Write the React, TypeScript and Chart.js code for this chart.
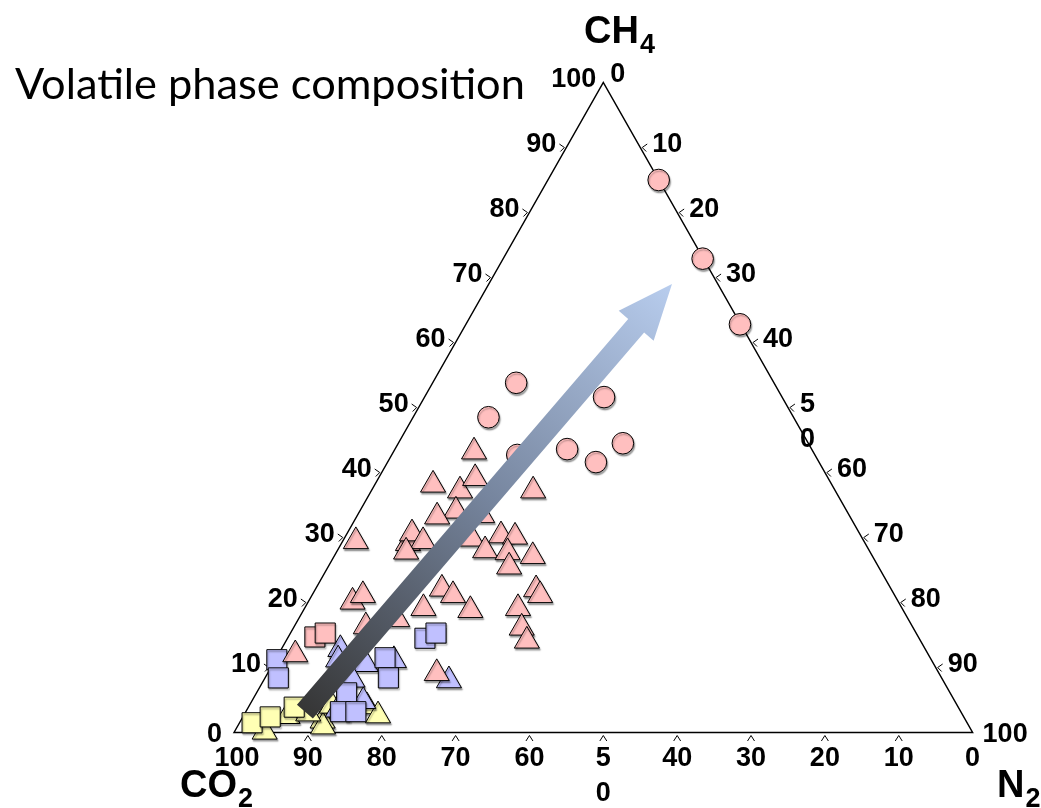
import React, { useEffect, useRef } from "react";
import { Chart, registerables } from "chart.js";

Chart.register(...registerables);

const TITLE = "Volatile phase composition";
const tickValues = [0, 10, 20, 30, 40, 50, 60, 70, 80, 90, 100];
const ch4TickLabels = ["0", "10", "20", "30", "40", "50", "60", "70", "80", "90", "100"];
const n2TickLabels = ["0", "10", "20", "30", "40", "5\n0", "60", "70", "80", "90", "100"];
const co2TickLabels = ["100", "90", "80", "70", "60", "5\n0", "40", "30", "20", "10", "0"];

// Compositions in % (CO2 = 100 - CH4 - N2)
const pinkCircleCH4 = [85.0, 72.9, 62.8, 53.8, 48.5, 51.6, 42.7, 43.6, 41.6, 44.5];
const pinkCircleN2 = [15.0, 27.0, 37.1, 11.3, 10.2, 24.3, 17.0, 23.3, 28.2, 30.4];

const pinkTriangleCH4 = [12.0, 20.1, 21.1, 29.4, 29.1, 30.6, 29.4, 27.8, 38.1, 37.2, 34.1, 33.2, 39.1, 43.2, 37.2, 29.8, 30.3, 30.1, 28.0, 27.7, 27.1, 25.5, 22.1, 21.1, 19.1, 18.8, 22.0, 21.1, 19.1, 16.1, 14.1, 9.1, 16.3, 17.4, 33.4];
const pinkTriangleN2 = [2.3, 6.0, 6.9, 1.8, 9.0, 8.8, 10.9, 9.4, 7.9, 12.0, 13.0, 10.9, 13.1, 10.9, 21.9, 17.3, 21.0, 23.0, 20.0, 23.2, 26.9, 24.5, 17.1, 19.1, 16.1, 22.6, 29.9, 30.9, 28.9, 30.9, 32.6, 22.9, 9.7, 13.4, 16.9];

const pinkSquareCH4 = [14.7, 15.3];
const pinkSquareN2 = [3.6, 4.7];

const blueSquareCH4 = [11.2, 8.4, 11.5, 8.4, 14.5, 15.3, 6.1, 3.2, 3.2];
const blueSquareN2 = [0.2, 1.8, 14.7, 16.7, 18.6, 19.7, 12.2, 12.8, 14.9];

const blueTriangleCH4 = [12.8, 11.2, 10.5, 11.1, 8.1, 8.0, 4.9, 4.8, 3.7, 3.5];
const blueTriangleN2 = [8.0, 8.5, 12.6, 16.1, 12.0, 25.1, 13.0, 15.1, 14.1, 12.3];

const yellowSquareCH4 = [1.5, 2.4, 3.9];
const yellowSquareN2 = [1.7, 3.7, 6.2];

const yellowTriangleCH4 = [0.1, 2.5, 1.8, 0.9, 4.1, 4.0, 2.6, 2.9];
const yellowTriangleN2 = [4.1, 6.0, 11.1, 11.6, 11.2, 16.0, 18.2, 8.6];

// Trend arrow: start and tip compositions
const arrowCH4 = [3.2, 69.0];
const arrowN2 = [8.0, 24.8];

const PINK = "#ffbfbf";
const BLUE = "#c0c0ff";
const YELLOW = "#ffffb4";

const toPts = (ch4: number[], n2: number[]) =>
  ch4.map((c, i) => ({ x: n2[i] + c / 2, y: c }));

const TICK_FONT = 'bold 27px "Liberation Sans", Arial, sans-serif';

const ternaryPlugin = {
  id: "ternary",
  beforeDatasetDraw(chart: any) {
    const ctx = chart.ctx;
    ctx.save();
    ctx.shadowColor = "rgba(0,0,0,0.35)";
    ctx.shadowOffsetX = 1;
    ctx.shadowOffsetY = 2;
    ctx.shadowBlur = 1.5;
  },
  afterDatasetDraw(chart: any) {
    chart.ctx.restore();
  },
  beforeDatasetsDraw(chart: any) {
    const ctx = chart.ctx;
    const xs = chart.scales.x;
    const ys = chart.scales.y;
    const P = (c: number, n: number) => [xs.getPixelForValue(n + c / 2), ys.getPixelForValue(c)];
    ctx.save();
    // title
    let size = 40;
    ctx.font = `${size}px Lato, "Open Sans", sans-serif`;
    const w = ctx.measureText(TITLE).width;
    size = (size * 510) / w;
    ctx.font = `${size}px Lato, "Open Sans", sans-serif`;
    ctx.fillStyle = "#000";
    ctx.textAlign = "left";
    ctx.textBaseline = "alphabetic";
    ctx.fillText(TITLE, 15, 99);

    // triangle
    const A = P(100, 0), L = P(0, 0), R = P(0, 100);
    ctx.strokeStyle = "#000";
    ctx.lineWidth = 1.5;
    ctx.beginPath();
    ctx.moveTo(L[0], L[1]);
    ctx.lineTo(A[0], A[1]);
    ctx.lineTo(R[0], R[1]);
    ctx.closePath();
    ctx.stroke();

    ctx.lineWidth = 1;
    ctx.font = TICK_FONT;
    tickValues.forEach((v, i) => {
      // left side: CH4
      const [lx, ly] = P(v, 0);
      if (v > 0 && v < 100) {
        ctx.beginPath();
        ctx.moveTo(lx - 7, ly - 3.5);
        ctx.lineTo(lx - 2, ly);
        ctx.lineTo(lx - 6, ly + 4);
        ctx.stroke();
      }
      ctx.textAlign = "right";
      ctx.fillText(ch4TickLabels[i], lx - (v === 0 ? 12 : v === 100 ? 7 : 10), ly + (v === 0 ? 9 : 4.5));

      // right side: N2
      const [rx, ry] = P(100 - v, v);
      if (v > 0 && v < 100) {
        ctx.beginPath();
        ctx.moveTo(rx + 7, ry - 3.5);
        ctx.lineTo(rx + 2, ry);
        ctx.lineTo(rx + 6, ry + 4);
        ctx.stroke();
      }
      ctx.textAlign = "left";
      const rl = n2TickLabels[i].split("\n");
      rl.forEach((t, k) => {
        if (v === 0) ctx.fillText(t, rx + 7, ry - 1);
        else if (v === 100) ctx.fillText(t, rx + 10, ry + 9);
        else ctx.fillText(t, rx + 12, ry + 4.5 + k * 35);
      });

      // bottom: CO2 (100 at the left vertex)
      const [bx, by] = P(0, v);
      if (v > 0 && v < 100) {
        ctx.beginPath();
        ctx.moveTo(bx - 3.5, by + 8.5);
        ctx.lineTo(bx, by + 3);
        ctx.lineTo(bx + 3.5, by + 8.5);
        ctx.stroke();
      }
      ctx.textAlign = "center";
      const bl = co2TickLabels[i].split("\n");
      bl.forEach((t, k) => ctx.fillText(t, bx + (v === 0 ? 3 : 0), by + 33 + k * 35));
    });

    // axis names
    const big = 'bold 38px "Liberation Sans", Arial, sans-serif';
    const sub = 'bold 27px "Liberation Sans", Arial, sans-serif';
    const drawName = (main: string, s: string, x: number, y: number) => {
      ctx.textAlign = "left";
      ctx.font = big;
      ctx.fillText(main, x, y);
      const mw = ctx.measureText(main).width;
      ctx.font = sub;
      ctx.fillText(s, x + mw + 1, y + 10);
    };
    drawName("CH", "4", 584, 43);
    drawName("CO", "2", 180, 797);
    drawName("N", "2", 997, 797);
    ctx.restore();
  },
  afterDatasetsDraw(chart: any) {
    const ctx = chart.ctx;
    const xs = chart.scales.x;
    const ys = chart.scales.y;
    const sx = xs.getPixelForValue(arrowN2[0] + arrowCH4[0] / 2);
    const sy = ys.getPixelForValue(arrowCH4[0]);
    const tx = xs.getPixelForValue(arrowN2[1] + arrowCH4[1] / 2);
    const ty = ys.getPixelForValue(arrowCH4[1]);
    const dx = tx - sx, dy = ty - sy;
    const len = Math.hypot(dx, dy);
    const ux = dx / len, uy = dy / len;
    const nx = -uy, ny = ux;
    const hl = 55, hw = 23, sw = 10.5;
    const bx = tx - ux * hl, by = ty - uy * hl;
    const grad = ctx.createLinearGradient(sx, sy, tx, ty);
    grad.addColorStop(0, "#363636");
    grad.addColorStop(0.5, "#76859e");
    grad.addColorStop(1, "#b8cdee");
    ctx.save();
    ctx.fillStyle = grad;
    ctx.beginPath();
    ctx.moveTo(sx + nx * sw, sy + ny * sw);
    ctx.lineTo(bx + nx * sw, by + ny * sw);
    ctx.lineTo(bx + nx * hw, by + ny * hw);
    ctx.lineTo(tx, ty);
    ctx.lineTo(bx - nx * hw, by - ny * hw);
    ctx.lineTo(bx - nx * sw, by - ny * sw);
    ctx.lineTo(sx - nx * sw, sy - ny * sw);
    ctx.closePath();
    ctx.fill();
    ctx.restore();
  },
};

const mk = (label: string, ch4: number[], n2: number[], style: string, radius: number, color: string) => ({
  label,
  data: toPts(ch4, n2),
  pointStyle: style,
  pointRadius: radius,
  pointHoverRadius: radius,
  backgroundColor: color,
  borderColor: "#000",
  borderWidth: 1,
  showLine: false,
  clip: false,
});

export default function App() {
  const ref = useRef<HTMLCanvasElement | null>(null);
  useEffect(() => {
    if (!ref.current) return;
    const chart = new Chart(ref.current, {
      type: "scatter",
      data: {
        datasets: [
          mk("pink circles", pinkCircleCH4, pinkCircleN2, "circle", 10.8, PINK),
          mk("pink triangles", pinkTriangleCH4, pinkTriangleN2, "triangle", 14.5, PINK),
          mk("pink squares", pinkSquareCH4, pinkSquareN2, "rect", 14.2, PINK),
          mk("blue squares", blueSquareCH4, blueSquareN2, "rect", 14.2, BLUE),
          mk("blue triangles", blueTriangleCH4, blueTriangleN2, "triangle", 14.5, BLUE),
          mk("yellow squares", yellowSquareCH4, yellowSquareN2, "rect", 14.2, YELLOW),
          mk("yellow triangles", yellowTriangleCH4, yellowTriangleN2, "triangle", 14.5, YELLOW),
        ] as any,
      },
      options: {
        responsive: false,
        animation: false,
        events: [],
        layout: { padding: { left: 234, right: 68.4, top: 82.5, bottom: 75.5 } },
        scales: {
          x: { type: "linear", min: 0, max: 100, display: false },
          y: { type: "linear", min: 0, max: 100, display: false },
        },
        plugins: { legend: { display: false }, tooltip: { enabled: false } },
      },
      plugins: [ternaryPlugin],
    });
    return () => chart.destroy();
  }, []);
  return (
    <div style={{ position: "absolute", left: 0, top: 0, width: 1041, height: 808, background: "#fff" }}>
      <canvas ref={ref} width={1041} height={808} style={{ display: "block" }} />
    </div>
  );
}
